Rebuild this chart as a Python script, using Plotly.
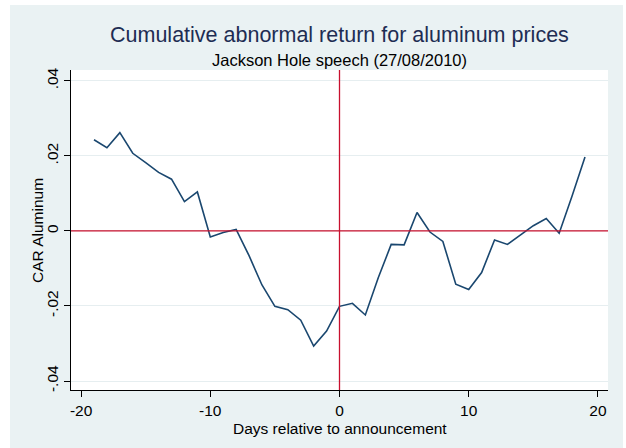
import plotly.graph_objects as go

days = list(range(-19, 20))
car = [0.0243, 0.0222, 0.0262, 0.0207, 0.0182, 0.0156, 0.0138, 0.0078, 0.0104,
       -0.0016, -0.0004, 0.0004, -0.0066, -0.0144, -0.0201, -0.0210, -0.0238,
       -0.0307, -0.0267, -0.0201, -0.0193, -0.0224, -0.0125, -0.0036, -0.0037,
       0.0049, -0.0003, -0.0028, -0.0142, -0.0156, -0.0111, -0.0024, -0.0036,
       -0.0012, 0.0014, 0.0033, -0.0006, 0.0093, 0.0197]

x_ticks = [-20, -10, 0, 10, 20]
x_tick_text = ["-20", "-10", "0", "10", "20"]
y_ticks = [-0.04, -0.02, 0, 0.02, 0.04]
y_tick_text = ["-.04", "-.02", "0", ".02", ".04"]

FONT = "Liberation Sans, Arial, sans-serif"
BG = "#EAF2F3"
RED = "#C8102E"
NAVY = "#1A476F"

fig = go.Figure()
fig.add_trace(go.Scatter(x=days, y=car, mode="lines",
                         line=dict(color=NAVY, width=1.6), showlegend=False,
                         hoverinfo="skip"))

W, H = 626, 448
L, R, T, B = 71, 18, 70, 58
pw, ph = W - L - R, H - T - B

def px_to_paper_x(px):
    return (px - L) / pw

def px_to_paper_y(py):
    return (H - B - py) / ph

fig.add_shape(type="rect", xref="paper", yref="paper", layer="below",
              x0=px_to_paper_x(10), x1=px_to_paper_x(623),
              y0=px_to_paper_y(448), y1=px_to_paper_y(5),
              fillcolor=BG, line=dict(width=0))
fig.add_shape(type="rect", xref="paper", yref="paper", layer="below",
              x0=0, x1=1, y0=0, y1=1, fillcolor="white", line=dict(width=0))

fig.add_hline(y=0, line=dict(color=RED, width=1.3))
fig.add_vline(x=0, line=dict(color=RED, width=1.3))

fig.add_annotation(text="Cumulative abnormal return for aluminum prices",
                   xref="paper", yref="paper", x=0.5, y=px_to_paper_y(35),
                   showarrow=False, font=dict(family=FONT, size=21.5, color="#1E2D53"),
                   xanchor="center", yanchor="middle")
fig.add_annotation(text="Jackson Hole speech (27/08/2010)",
                   xref="paper", yref="paper", x=0.5, y=px_to_paper_y(60),
                   showarrow=False, font=dict(family=FONT, size=16.5, color="black"),
                   xanchor="center", yanchor="middle")
fig.add_annotation(text="CAR Aluminum", textangle=-90,
                   xref="paper", yref="paper", x=px_to_paper_x(37), y=px_to_paper_y(231),
                   showarrow=False, font=dict(family=FONT, size=15.5, color="black"),
                   xanchor="center", yanchor="middle")
fig.add_annotation(text="Days relative to announcement",
                   xref="paper", yref="paper", x=0.5, y=px_to_paper_y(428),
                   showarrow=False, font=dict(family=FONT, size=15.5, color="black"),
                   xanchor="center", yanchor="middle")

fig.update_layout(
    width=W, height=H,
    margin=dict(l=L, r=R, t=T, b=B, autoexpand=False),
    paper_bgcolor="white", plot_bgcolor="rgba(0,0,0,0)",
    font=dict(family=FONT, size=15.5, color="black"),
    xaxis=dict(range=[-20.78, 20.78], tickvals=x_ticks, ticktext=x_tick_text,
               ticks="outside", ticklen=6,
               tickcolor="black", showline=True, linecolor="black", linewidth=1.2,
               showgrid=False, zeroline=False, automargin=False),
    yaxis=dict(range=[-0.0424, 0.0429], tickvals=y_ticks, ticktext=y_tick_text,
               tickangle=-90, ticks="outside", ticklen=6, tickcolor="black",
               showline=True, linecolor="black", linewidth=1.2,
               showgrid=True, gridcolor="#E6EEF0", gridwidth=1, zeroline=False,
               automargin=False),
)

fig.write_html("out.html", config={"displayModeBar": False},
               post_script="document.body.style.margin='0';")
